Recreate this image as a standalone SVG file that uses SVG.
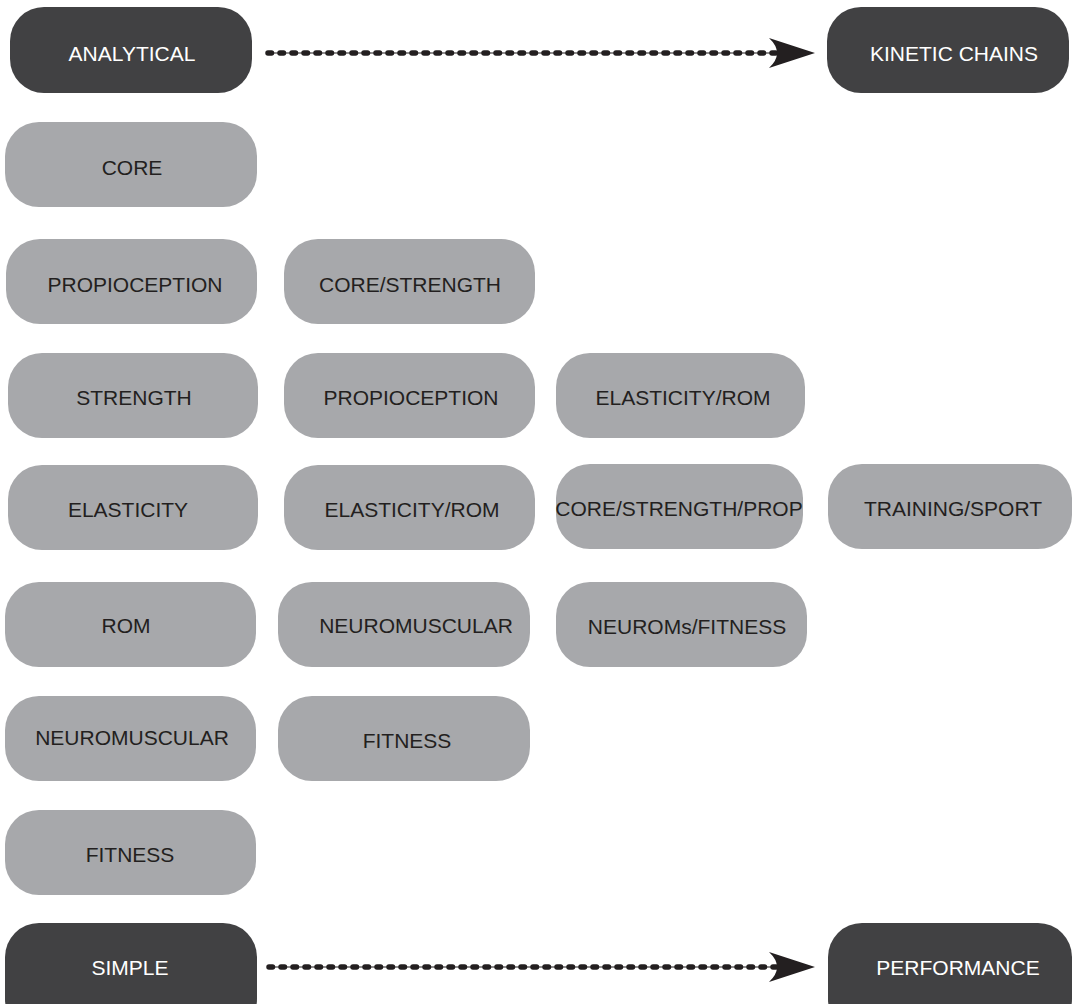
<svg xmlns="http://www.w3.org/2000/svg" width="1075" height="1004" viewBox="0 0 1075 1004">
<style>
.dk{fill:#414143}
.gr{fill:#a7a8ab}
text{font-family:"Liberation Sans",Arial,Helvetica,sans-serif;font-size:21px;text-anchor:middle}
.wt{fill:#ffffff}
.bt{fill:#231f20}
.thin{stroke:#231f20;stroke-width:1.2;fill:none}
.dots{stroke:#231f20;stroke-width:5.5;stroke-linecap:round;stroke-dasharray:3.5 8.5;fill:none}
.head{fill:#231f20}
</style>
<rect width="1075" height="1004" fill="#ffffff"/>
<g id="n-analytical"><rect class="dk" x="10" y="7" width="242" height="86" rx="34"/><text class="wt" x="132" y="61">ANALYTICAL</text></g>
<g id="n-kinetic"><rect class="dk" x="827" y="7" width="242" height="86" rx="34"/><text class="wt" x="954" y="61">KINETIC CHAINS</text></g>
<g id="n-core"><rect class="gr" x="5" y="122" width="252" height="85" rx="34"/><text class="bt" x="132" y="175">CORE</text></g>
<g id="n-prop1"><rect class="gr" x="6" y="239" width="251" height="85" rx="34"/><text class="bt" x="135" y="292">PROPIOCEPTION</text></g>
<g id="n-corestr"><rect class="gr" x="284" y="239" width="251" height="85" rx="34"/><text class="bt" x="410" y="292">CORE/STRENGTH</text></g>
<g id="n-strength"><rect class="gr" x="8" y="353" width="250" height="85" rx="34"/><text class="bt" x="134" y="405">STRENGTH</text></g>
<g id="n-prop2"><rect class="gr" x="284" y="353" width="251" height="85" rx="34"/><text class="bt" x="411" y="405">PROPIOCEPTION</text></g>
<g id="n-elrom1"><rect class="gr" x="556" y="353" width="249" height="85" rx="34"/><text class="bt" x="683" y="405">ELASTICITY/ROM</text></g>
<g id="n-elasticity"><rect class="gr" x="8" y="465" width="250" height="85" rx="34"/><text class="bt" x="128" y="517">ELASTICITY</text></g>
<g id="n-elrom2"><rect class="gr" x="284" y="465" width="251" height="85" rx="34"/><text class="bt" x="412" y="517">ELASTICITY/ROM</text></g>
<g id="n-csp"><rect class="gr" x="556" y="464" width="247" height="85" rx="34"/><text class="bt" x="679" y="516">CORE/STRENGTH/PROP</text></g>
<g id="n-training"><rect class="gr" x="828" y="464" width="244" height="85" rx="34"/><text class="bt" x="953" y="516">TRAINING/SPORT</text></g>
<g id="n-rom"><rect class="gr" x="5" y="582" width="251" height="85" rx="34"/><text class="bt" x="126" y="633">ROM</text></g>
<g id="n-neuro1"><rect class="gr" x="278" y="582" width="252" height="85" rx="34"/><text class="bt" x="416" y="633">NEUROMUSCULAR</text></g>
<g id="n-neurofit"><rect class="gr" x="556" y="582" width="251" height="85" rx="34"/><text class="bt" x="687" y="634">NEUROMs/FITNESS</text></g>
<g id="n-neuro2"><rect class="gr" x="5" y="696" width="251" height="85" rx="34"/><text class="bt" x="132" y="745">NEUROMUSCULAR</text></g>
<g id="n-fit1"><rect class="gr" x="278" y="696" width="252" height="85" rx="34"/><text class="bt" x="407" y="748">FITNESS</text></g>
<g id="n-fit2"><rect class="gr" x="5" y="810" width="251" height="85" rx="34"/><text class="bt" x="130" y="862">FITNESS</text></g>
<g id="n-simple"><rect class="dk" x="5" y="923" width="252" height="110" rx="34"/><text class="wt" x="130" y="975">SIMPLE</text></g>
<g id="n-performance"><rect class="dk" x="828" y="923" width="244" height="110" rx="34"/><text class="wt" x="958" y="975">PERFORMANCE</text></g>
<g id="connectors">
<line class="thin" x1="267" y1="53" x2="778" y2="53"/>
<line class="dots" x1="268" y1="53" x2="776" y2="53"/>
<path class="head" d="M815,53 L769,38 Q785,53 769,68 Z"/>
<line class="thin" x1="268" y1="967" x2="778" y2="967"/>
<line class="dots" x1="269" y1="967" x2="776" y2="967"/>
<path class="head" d="M815,967 L769,952 Q785,967 769,982 Z"/>
</g>
</svg>
